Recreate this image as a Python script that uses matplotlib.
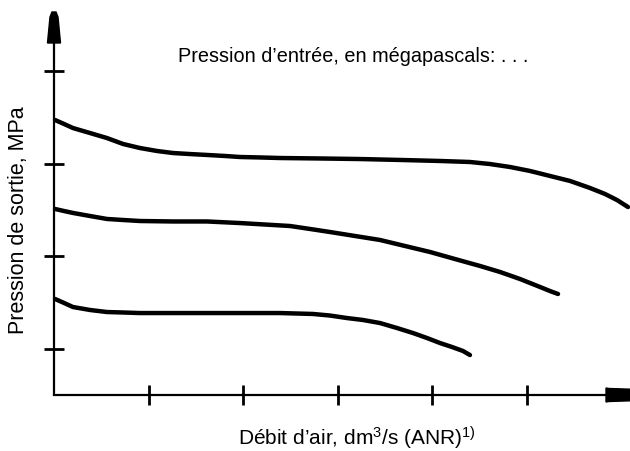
import matplotlib
matplotlib.use("Agg")
import matplotlib.pyplot as plt
from matplotlib.patches import Polygon

plt.rcParams['font.family'] = ['Liberation Sans', 'DejaVu Sans']
plt.rcParams['mathtext.fontset'] = 'custom'
plt.rcParams['mathtext.rm'] = 'Liberation Sans'
plt.rcParams['mathtext.it'] = 'Liberation Sans'
plt.rcParams['mathtext.bf'] = 'Liberation Sans'

# ---- data (schematic, arbitrary units) ----
x_ticks = [1, 2, 3, 4, 5]
y_ticks = [0.5, 1.5, 2.5, 3.5]

top_x = [0.011, 0.106, 0.201, 0.381, 0.560, 0.729, 0.909, 1.089, 1.258, 1.438, 1.617, 1.808,
         1.966, 2.178, 2.389, 2.812, 3.235, 3.658, 4.080, 4.397, 4.609, 4.820, 5.032, 5.243,
         5.455, 5.666, 5.825, 5.951, 6.068]
top_y = [2.973, 2.930, 2.886, 2.832, 2.778, 2.714, 2.670, 2.638, 2.616, 2.605, 2.595, 2.584,
         2.573, 2.568, 2.562, 2.557, 2.551, 2.541, 2.530, 2.519, 2.497, 2.465, 2.422, 2.368,
         2.314, 2.238, 2.173, 2.108, 2.032]

mid_x = [0.011, 0.106, 0.201, 0.381, 0.560, 0.729, 0.909, 1.258, 1.617, 1.966, 2.230, 2.495,
         2.706, 2.918, 3.182, 3.446, 3.710, 3.975, 4.239, 4.503, 4.715, 4.926, 5.137, 5.243, 5.328]
mid_y = [2.011, 1.989, 1.968, 1.935, 1.903, 1.892, 1.881, 1.876, 1.876, 1.859, 1.843, 1.827,
         1.795, 1.762, 1.719, 1.676, 1.611, 1.546, 1.470, 1.395, 1.330, 1.254, 1.168, 1.124, 1.092]

bot_x = [0.011, 0.106, 0.201, 0.381, 0.560, 0.729, 0.909, 1.438, 1.966, 2.389, 2.738, 2.918,
         3.097, 3.266, 3.446, 3.626, 3.795, 3.943, 4.080, 4.207, 4.323, 4.397]
bot_y = [1.038, 0.995, 0.951, 0.919, 0.897, 0.892, 0.886, 0.886, 0.886, 0.886, 0.876, 0.859,
         0.832, 0.811, 0.778, 0.724, 0.670, 0.616, 0.562, 0.519, 0.476, 0.432]

title_text = "Pression d’entrée, en mégapascals: . . ."
xlabel_text = r"Débit d’air, dm$^{\mathrm{3}}$/s (ANR)$^{\mathrm{1)}}$"
ylabel_text = "Pression de sortie, MPa"

# ---- layout ----
W, H = 630, 451
fig = plt.figure(figsize=(W / 100, H / 100), dpi=100)
x0, y0 = 54, 395           # axis corner in pixels (from top-left)
ux, uy = 94.6, 92.5        # pixels per unit
ax = fig.add_axes([x0 / W, (H - y0) / H, (W - x0) / W, y0 / H])
ax.set_xlim(0, (W - x0) / ux)
ax.set_ylim(0, y0 / uy)
ax.patch.set_visible(False)

for s in ['top', 'right']:
    ax.spines[s].set_visible(False)
ytip = (y0 - 12) / uy
ax.spines['left'].set_bounds(0, ytip - 0.1)
ax.spines['left'].set_linewidth(1.6)
ax.spines['bottom'].set_linewidth(1.6)
ax.spines['left'].set_capstyle('butt')

ax.set_xticks(x_ticks)
ax.set_yticks(y_ticks)
ax.tick_params(axis='both', direction='inout', length=14, width=2.0,
               labelbottom=False, labelleft=False, color='black')

lw = 3.2
for xs, ys in [(top_x, top_y), (mid_x, mid_y), (bot_x, bot_y)]:
    ax.plot(xs, ys, color='black', lw=lw, solid_capstyle='round',
            solid_joinstyle='round', clip_on=False)

# arrow heads
hw_base_x = 6.5 / ux
hw_tip_x = 4.0 / ux
ybase = (y0 - 43) / uy
yarrow = Polygon([(-hw_base_x, ybase), (-hw_tip_x, ytip - 5 / uy), (-2 / ux, ytip),
                  (2 / ux, ytip), (hw_tip_x, ytip - 5 / uy), (hw_base_x, ybase)],
                 closed=True, color='black', clip_on=False)
ax.add_patch(yarrow)

hw_base_y = 7.0 / uy
hw_tip_y = 5.5 / uy
xbase = (606 - x0) / ux
xtip = (640 - x0) / ux
xarrow = Polygon([(xbase, -hw_base_y), (xbase + 3 / ux, -hw_tip_y - 1 / uy), (xtip, -hw_tip_y),
                  (xtip, hw_tip_y), (xbase + 3 / ux, hw_tip_y + 1 / uy), (xbase, hw_base_y)],
                 closed=True, color='black', clip_on=False)
ax.add_patch(xarrow)

# texts
fig.text(353 / W, 1 - 57 / H, title_text, ha='center', va='center', fontsize=14.3)
fig.text(357 / W, (H - 445) / H, xlabel_text, ha='center', va='baseline', fontsize=15)
fig.text(19 / W, 1 - 220 / H, ylabel_text, ha='center', va='center', rotation=90, fontsize=15.5)

fig.savefig("out.png", dpi=100)
